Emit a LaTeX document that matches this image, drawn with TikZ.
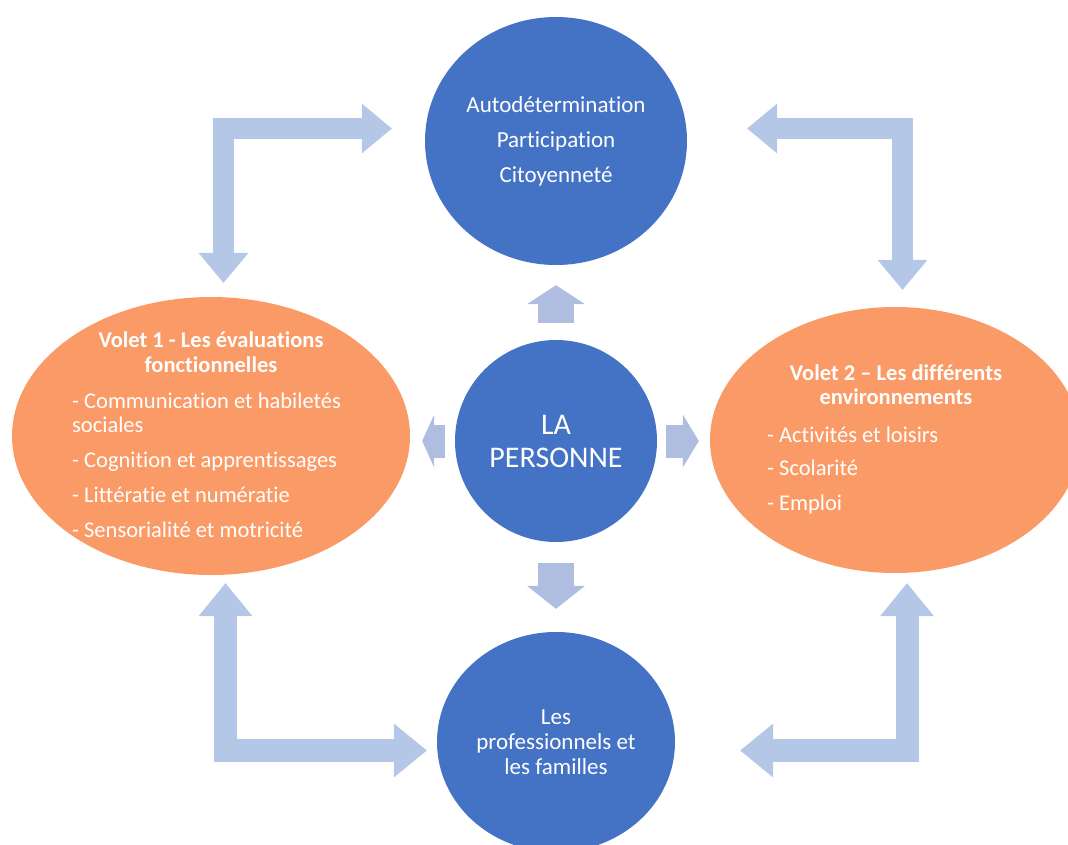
\documentclass[tikz,border=0pt]{standalone}
\usepackage{fontspec}
\setmainfont{Carlito}[Ligatures=NoCommon]
\usepackage{xcolor}
\usepackage{tikz}
\usetikzlibrary{arrows.meta,shapes.geometric}

\definecolor{bleu}{HTML}{4472C4}
\definecolor{voletorange}{HTML}{FA9A66}
\definecolor{flechebleu}{HTML}{B4C7E7}
\definecolor{flechepetite}{HTML}{AFBDE0}

\tikzset{
  cercle/.style={ellipse,fill=bleu,inner sep=0pt,text=white,align=center},
  volet/.style={ellipse,fill=voletorange,inner sep=0pt},
  texte/.style={text=white,inner sep=0pt,font=\fontsize{22.5}{24}\selectfont},
  titre/.style={texte,font=\fontsize{22.5}{24}\selectfont\bfseries},
  grande/.style n args={3}{draw=flechebleu,line width=#1,
    {Triangle[width=#2,length=#3,line width=0pt]}-{Triangle[width=#2,length=#3,line width=0pt]}},
  petite/.style n args={3}{draw=flechepetite,line width=#1,
    -{Triangle[width=#2,length=#3,line width=0pt]}}
}

\begin{document}
\begin{tikzpicture}[x=1pt,y=-1pt]
\useasboundingbox (0,0) rectangle (1068,844);

\node[cercle,minimum width=262pt,minimum height=248pt,font=\fontsize{23}{35}\selectfont] (auto) at (556,141) {Autodétermination\\Participation\\Citoyenneté};
\node[cercle,minimum width=202pt,minimum height=202pt,font=\fontsize{30}{33}\selectfont] (pers) at (556,441) {LA\\PERSONNE};
\node[cercle,minimum width=238pt,minimum height=220pt,font=\fontsize{23}{25}\selectfont] (pro) at (556,742) {Les\\professionnels et\\les familles};

\node[volet,minimum width=398pt,minimum height=278pt] (v1) at (211,436) {};
\foreach \n/\y/\t in {1/347/Volet 1 - Les évaluations,2/372/fonctionnelles}
  \node[titre,anchor=base] (v1t\n) at (211,\y) {\t};
\foreach \n/\y/\t in {1/408/- Communication et habiletés,2/432/sociales,3/467/- Cognition et apprentissages,4/502/- Littératie et numératie,5/537/- Sensorialité et motricité}
  \node[texte,anchor=base west] (v1l\n) at (72,\y) {\t};

\node[volet,minimum width=370pt,minimum height=266pt] (v2) at (895,440) {};
\foreach \n/\y/\t in {1/380/Volet 2 – Les différents,2/404/environnements}
  \node[titre,anchor=base] (v2t\n) at (896,\y) {\t};
\foreach \n/\y/\t in {1/442/- Activités et loisirs,2/475/- Scolarité,3/510/- Emploi}
  \node[texte,anchor=base west] (v2l\n) at (767,\y) {\t};

\draw[petite={36pt}{58pt}{19pt},shorten <=17pt,shorten >=20pt] (pers.north) -- (auto.south);
\draw[petite={36pt}{58pt}{23pt},shorten <=21pt,shorten >=23pt] (pers.south) -- (pro.north);
\draw[petite={33pt}{53pt}{12pt},shorten <=10pt,shorten >=12pt] (pers.west) -- (pers.west -| v1.east);
\draw[petite={33pt}{53pt}{16pt},shorten <=9pt,shorten >=11pt] (pers.east) -- (pers.east -| v2.west);

\draw[grande={21pt}{50pt}{30pt}] ([xshift=12.5pt,yshift=14pt]v1.north) |- ([xshift=-33pt,yshift=12.5pt]auto.west);
\draw[grande={21pt}{50pt}{30pt}] ([xshift=7.5pt,yshift=17pt]v2.north) |- ([xshift=60pt,yshift=12.5pt]auto.east);
\draw[grande={23pt}{54pt}{33pt}] ([xshift=14.5pt,yshift=-8pt]v1.south) |- ([xshift=-10pt,yshift=-8.5pt]pro.west);
\draw[grande={23pt}{54pt}{33pt}] ([xshift=12pt,yshift=-10pt]v2.south) |- ([xshift=65pt,yshift=-8.5pt]pro.east);
\end{tikzpicture}
\end{document}
